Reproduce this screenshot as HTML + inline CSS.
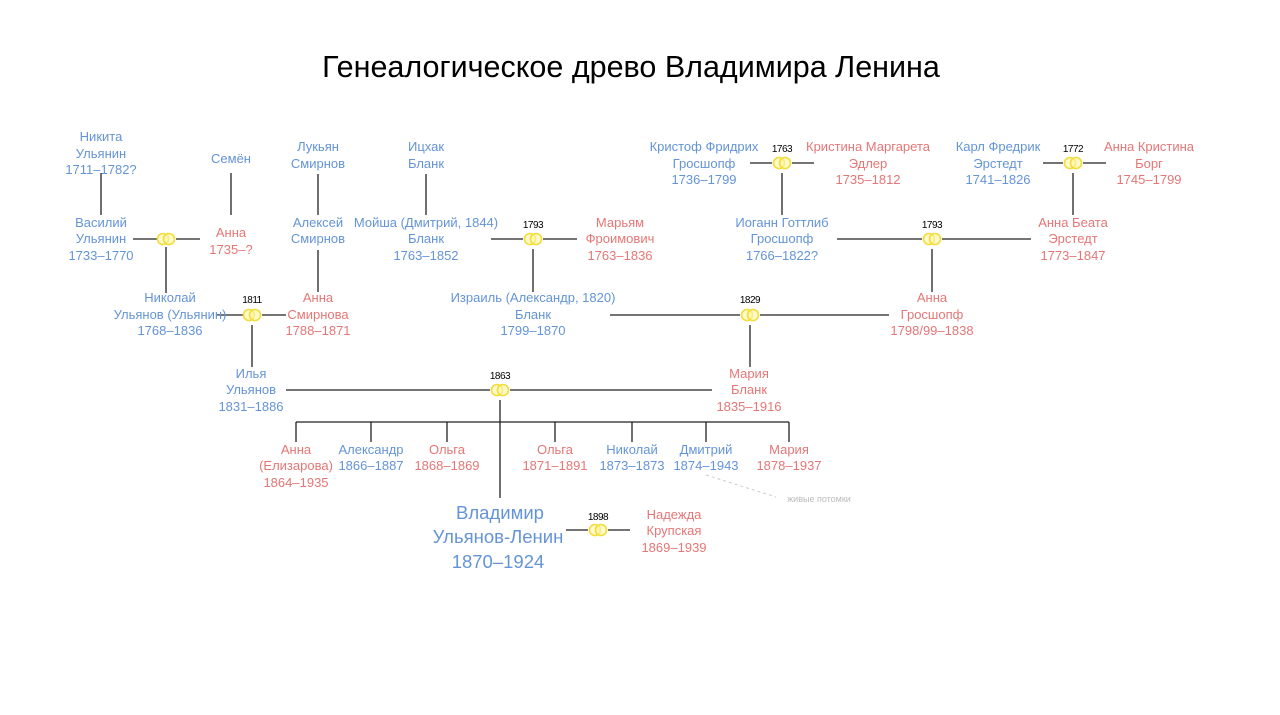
<!DOCTYPE html>
<html><head><meta charset="utf-8"><style>
html,body{margin:0;padding:0;background:#fff;width:1280px;height:715px;overflow:hidden}
svg{display:block}
text{font-family:"Liberation Sans","DejaVu Sans",sans-serif;text-anchor:middle}
.b{fill:#6494d8;font-size:13px}
.p{fill:#e67676;font-size:13px}
.y{fill:#000;font-size:10px;letter-spacing:-0.5px}
line{stroke:#222;stroke-width:1.3}
.r circle{fill:#fff7a8;fill-opacity:.6;stroke:#f3dc38;stroke-width:1.6}
</style></head><body>
<svg width="1280" height="715" viewBox="0 0 1280 715">
<defs><g id="ring" class="r"><circle cx="-3" cy="0" r="5.5"/><circle cx="3" cy="0" r="5.5"/></g></defs>
<text x="631" y="77" style="font-size:30.5px;fill:#000">Генеалогическое древо Владимира Ленина</text>

<line x1="101" y1="173" x2="101" y2="215"/>
<line x1="231" y1="173" x2="231" y2="215"/>
<line x1="133" y1="239" x2="157" y2="239"/><line x1="176" y1="239" x2="200" y2="239"/>
<line x1="166" y1="247" x2="166" y2="293"/>
<line x1="217" y1="315" x2="243" y2="315"/><line x1="262" y1="315" x2="286" y2="315"/>
<line x1="318" y1="174" x2="318" y2="215"/>
<line x1="318" y1="250" x2="318" y2="292"/>
<line x1="426" y1="174" x2="426" y2="215"/>
<line x1="491" y1="239" x2="523" y2="239"/><line x1="543" y1="239" x2="577" y2="239"/>
<line x1="533" y1="249" x2="533" y2="292"/>
<line x1="610" y1="315" x2="740" y2="315"/><line x1="760" y1="315" x2="889" y2="315"/>
<line x1="750" y1="325" x2="750" y2="367"/>
<line x1="750" y1="163" x2="772" y2="163"/><line x1="792" y1="163" x2="814" y2="163"/>
<line x1="782" y1="173" x2="782" y2="215"/>
<line x1="837" y1="239" x2="922" y2="239"/><line x1="942" y1="239" x2="1031" y2="239"/>
<line x1="932" y1="249" x2="932" y2="292"/>
<line x1="1043" y1="163" x2="1063" y2="163"/><line x1="1083" y1="163" x2="1106" y2="163"/>
<line x1="1073" y1="173" x2="1073" y2="215"/>
<line x1="252" y1="325" x2="252" y2="367"/>
<line x1="286" y1="390" x2="490" y2="390"/><line x1="510" y1="390" x2="712" y2="390"/>
<line x1="500" y1="400" x2="500" y2="498"/>
<line x1="296" y1="422" x2="789" y2="422"/>
<line x1="296" y1="422" x2="296" y2="442"/><line x1="371" y1="422" x2="371" y2="442"/>
<line x1="447" y1="422" x2="447" y2="442"/><line x1="555" y1="422" x2="555" y2="442"/>
<line x1="632" y1="422" x2="632" y2="442"/><line x1="706" y1="422" x2="706" y2="442"/>
<line x1="789" y1="422" x2="789" y2="442"/>
<line x1="566" y1="530" x2="588" y2="530"/><line x1="608" y1="530" x2="630" y2="530"/>
<line x1="706" y1="475" x2="776" y2="497" style="stroke:#ccc;stroke-width:1;stroke-dasharray:3,3"/>

<use href="#ring" x="166" y="239"/><use href="#ring" x="252" y="315"/>
<use href="#ring" x="533" y="239"/><use href="#ring" x="750" y="315"/>
<use href="#ring" x="782" y="163"/><use href="#ring" x="932" y="239"/>
<use href="#ring" x="1073" y="163"/><use href="#ring" x="500" y="390"/>
<use href="#ring" x="598" y="530"/>
<text class="y" x="252" y="303">1811</text><text class="y" x="533" y="228">1793</text>
<text class="y" x="750" y="303">1829</text><text class="y" x="782" y="152">1763</text>
<text class="y" x="932" y="228">1793</text><text class="y" x="1073" y="152">1772</text>
<text class="y" x="500" y="379">1863</text><text class="y" x="598" y="520">1898</text>

<text class="b" x="101" y="141">Никита</text><text class="b" x="101" y="158">Ульянин</text><text class="b" x="101" y="174">1711–1782?</text>
<text class="b" x="231" y="163">Семён</text>
<text class="b" x="101" y="227">Василий</text><text class="b" x="101" y="243">Ульянин</text><text class="b" x="101" y="260">1733–1770</text>
<text class="p" x="231" y="237">Анна</text><text class="p" x="231" y="254">1735–?</text>
<text class="b" x="170" y="302">Николай</text><text class="b" x="170" y="319">Ульянов (Ульянин)</text><text class="b" x="170" y="335">1768–1836</text>
<text class="p" x="318" y="302">Анна</text><text class="p" x="318" y="319">Смирнова</text><text class="p" x="318" y="335">1788–1871</text>
<text class="b" x="318" y="151">Лукьян</text><text class="b" x="318" y="168">Смирнов</text>
<text class="b" x="318" y="227">Алексей</text><text class="b" x="318" y="243">Смирнов</text>
<text class="b" x="426" y="151">Ицхак</text><text class="b" x="426" y="168">Бланк</text>
<text class="b" x="426" y="227">Мойша (Дмитрий, 1844)</text><text class="b" x="426" y="243">Бланк</text><text class="b" x="426" y="260">1763–1852</text>
<text class="p" x="620" y="227">Марьям</text><text class="p" x="620" y="243">Фроимович</text><text class="p" x="620" y="260">1763–1836</text>
<text class="b" x="533" y="302">Израиль (Александр, 1820)</text><text class="b" x="533" y="319">Бланк</text><text class="b" x="533" y="335">1799–1870</text>
<text class="p" x="932" y="302">Анна</text><text class="p" x="932" y="319">Гросшопф</text><text class="p" x="932" y="335">1798/99–1838</text>
<text class="b" x="704" y="151">Кристоф Фридрих</text><text class="b" x="704" y="168">Гросшопф</text><text class="b" x="704" y="184">1736–1799</text>
<text class="p" x="868" y="151">Кристина Маргарета</text><text class="p" x="868" y="168">Эдлер</text><text class="p" x="868" y="184">1735–1812</text>
<text class="b" x="782" y="227">Иоганн Готтлиб</text><text class="b" x="782" y="243">Гросшопф</text><text class="b" x="782" y="260">1766–1822?</text>
<text class="p" x="1073" y="227">Анна Беата</text><text class="p" x="1073" y="243">Эрстедт</text><text class="p" x="1073" y="260">1773–1847</text>
<text class="b" x="998" y="151">Карл Фредрик</text><text class="b" x="998" y="168">Эрстедт</text><text class="b" x="998" y="184">1741–1826</text>
<text class="p" x="1149" y="151">Анна Кристина</text><text class="p" x="1149" y="168">Борг</text><text class="p" x="1149" y="184">1745–1799</text>
<text class="b" x="251" y="378">Илья</text><text class="b" x="251" y="394">Ульянов</text><text class="b" x="251" y="411">1831–1886</text>
<text class="p" x="749" y="378">Мария</text><text class="p" x="749" y="394">Бланк</text><text class="p" x="749" y="411">1835–1916</text>

<text class="p" x="296" y="454">Анна</text><text class="p" x="296" y="470">(Елизарова)</text><text class="p" x="296" y="487">1864–1935</text>
<text class="b" x="371" y="454">Александр</text><text class="b" x="371" y="470">1866–1887</text>
<text class="p" x="447" y="454">Ольга</text><text class="p" x="447" y="470">1868–1869</text>
<text class="p" x="555" y="454">Ольга</text><text class="p" x="555" y="470">1871–1891</text>
<text class="b" x="632" y="454">Николай</text><text class="b" x="632" y="470">1873–1873</text>
<text class="b" x="706" y="454">Дмитрий</text><text class="b" x="706" y="470">1874–1943</text>
<text class="p" x="789" y="454">Мария</text><text class="p" x="789" y="470">1878–1937</text>
<text x="819" y="502" style="fill:#bbb;font-size:9px">живые потомки</text>

<text class="b" x="500" y="519" style="font-size:18.5px">Владимир</text>
<text class="b" x="498" y="543" style="font-size:18.5px">Ульянов-Ленин</text>
<text class="b" x="498" y="568" style="font-size:18.5px">1870–1924</text>
<text class="p" x="674" y="519">Надежда</text><text class="p" x="674" y="535">Крупская</text><text class="p" x="674" y="552">1869–1939</text>
</svg>
</body></html>
